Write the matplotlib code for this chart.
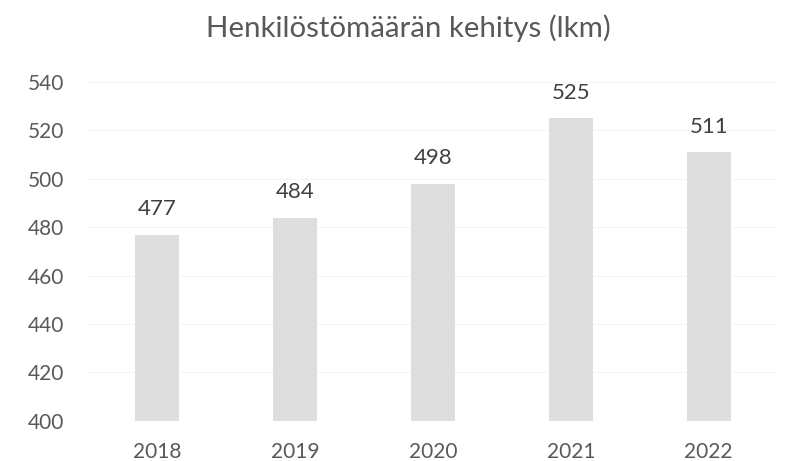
import matplotlib
matplotlib.use("Agg")
import matplotlib.pyplot as plt

plt.rcParams['font.family'] = ['Lato', 'DejaVu Sans']

years = ["2018", "2019", "2020", "2021", "2022"]
values = [477, 484, 498, 525, 511]
yticks = [400, 420, 440, 460, 480, 500, 520, 540]

fig = plt.figure(figsize=(7.95, 4.61), dpi=100)
ax = fig.add_axes([0.1107, 0.087, 0.8675, 0.735])
x = range(len(years))
bars = ax.bar(x, values, width=0.32, color="#dedede", zorder=2)
ax.set_xlim(-0.5, len(years) - 0.5)
ax.set_ylim(400, 540)
ax.set_yticks(yticks)
ax.set_xticks(list(x))
ax.set_xticklabels(years)
ax.grid(axis='y', color="#f4f4f4", linewidth=0.8, zorder=0)
for s in ax.spines.values():
    s.set_visible(False)
ax.tick_params(axis='both', length=0, colors="#595959", labelsize=15)
ax.tick_params(axis='y', pad=17)
ax.tick_params(axis='x', pad=15)
for xi, v in zip(x, values):
    ax.text(xi, v + 6.3, str(v), ha='center', va='bottom', fontsize=16, color="#404040")
fig.text(0.514, 0.939, "Henkilöstömäärän kehitys (lkm)", ha='center', va='center',
         fontsize=21.2, color="#595959")
fig.savefig("out.png", dpi=100)
